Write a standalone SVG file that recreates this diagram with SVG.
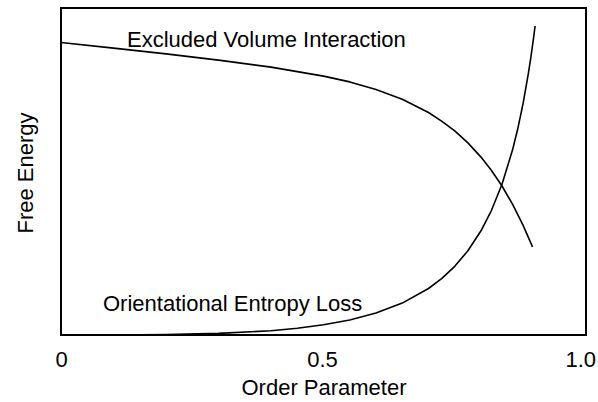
<svg xmlns="http://www.w3.org/2000/svg" width="598" height="402" viewBox="0 0 598 402">
<style>
text{font-family:"Liberation Sans",Arial,sans-serif;font-size:22px;fill:#000}
.curve{fill:none;stroke:#000;stroke-width:1.6;stroke-linejoin:round}
.frame{fill:none;stroke:#000;stroke-width:2}
</style>
<rect width="598" height="402" fill="#fff"/>
<g id="plot-frame"><rect class="frame" x="61" y="8" width="525" height="327"/></g>
<g id="connectors">
<path id="excluded-curve" class="curve" d="M61,42.5 L113.5,48.1 L166,53.9 L218.5,60.1 L271,67.1 L323.5,76.1 L349.75,81.9 L376,89.5 L402.25,99.3 L428.5,112.5 L441.6,121.1 L454.75,130.9 L467.9,142.9 L481,157.1 L491.5,170.5 L502,186 L512.5,204.1 L523,225.1 L532.5,246.9"/>
<path id="entropy-curve" class="curve" d="M61,335 L113.5,334.95 L166,334.6 L218.5,333.4 L271,330.7 L297.25,328.3 L323.5,324.8 L349.75,320 L376,313 L402.25,303.1 L428.5,288.5 L441.6,278.6 L454.75,266.3 L467.9,250.8 L481,230.8 L491.5,210.3 L502,184.2 L512.5,150.1 L517.75,128.8 L523,103.9 L528.25,74.2 L530.9,57.1 L533.5,38.3 L535.1,26"/>
</g>
<g id="label-excluded"><text x="127" y="47">Excluded Volume Interaction</text></g>
<g id="label-entropy"><text x="103" y="311">Orientational Entropy Loss</text></g>
<g id="tick-labels">
<text x="61.7" y="367" text-anchor="middle">0</text>
<text x="322.5" y="367" text-anchor="middle">0.5</text>
<text x="596" y="367" text-anchor="end">1.0</text>
</g>
<g id="axis-x"><text x="324" y="395" text-anchor="middle">Order Parameter</text></g>
<g id="axis-y"><text transform="translate(33.3,173) rotate(-90)" text-anchor="middle">Free Energy</text></g>
</svg>
